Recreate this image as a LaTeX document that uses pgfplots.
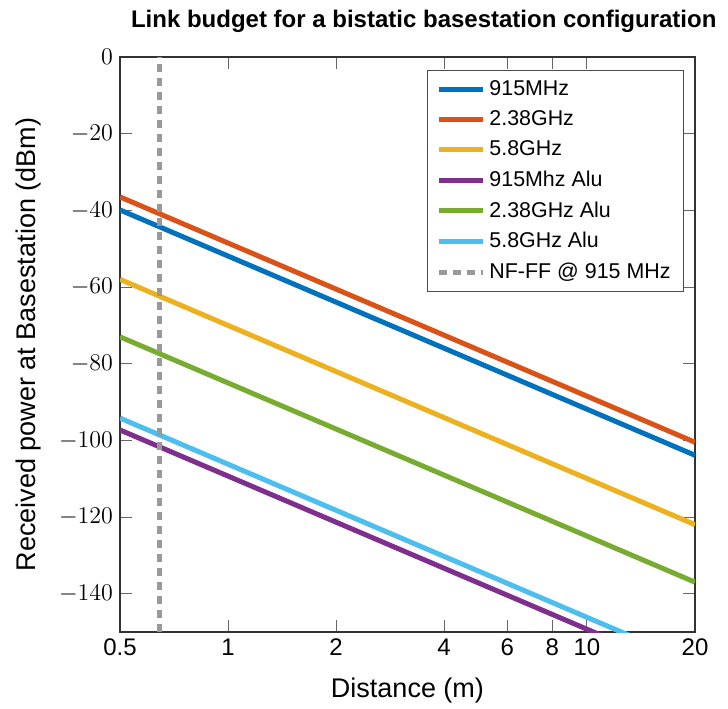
\documentclass[border=0pt]{standalone}
\usepackage{fontspec}
\setmainfont{Liberation Sans}
\usepackage{pgfplots}
\pgfplotsset{compat=1.18}

\definecolor{c1}{rgb}{0,0.447,0.741}
\definecolor{c2}{rgb}{0.850,0.325,0.098}
\definecolor{c3}{rgb}{0.929,0.694,0.125}
\definecolor{c4}{rgb}{0.494,0.184,0.556}
\definecolor{c5}{rgb}{0.466,0.674,0.188}
\definecolor{c6}{rgb}{0.301,0.745,0.933}
\definecolor{nfff}{rgb}{0.6,0.6,0.6}

\begin{document}
\begin{tikzpicture}
\begin{axis}[
  at={(0,0)}, anchor=south west,
  scale only axis, width=287.5pt, height=287.5pt,
  xmode=log, xmin=0.5, xmax=20, ymin=-150, ymax=0,
  xtick={0.5,1,2,4,6,8,10,20},
  xticklabels={0.5,1,2,4,6,8,10,20},
  xminorticks=false,
  ytick={-140,-120,-100,-80,-60,-40,-20,0},
  xticklabel style={font=\fontsize{12}{14}\selectfont},
  yticklabel style={font=\fontsize{13}{15}\selectfont},
  major tick length=6pt,
  tick style={color=black!60, line width=0.5pt},
  axis line style={line width=0.6pt, color=black!80},
  xlabel={Distance (m)},
  ylabel={Received power at Basestation (dBm)},
  label style={font=\fontsize{13.5}{15}\selectfont},
  xlabel style={yshift=-4pt},
  ylabel style={yshift=2pt},
  legend style={at={(1,1)}, anchor=north east, xshift=-5.5pt, yshift=-6.5pt,
    font=\fontsize{10.7}{12}\selectfont, row sep=2.1pt, inner xsep=4.5pt, inner ysep=3pt,
    draw=black!70, line width=0.5pt},
  legend cell align=left,
  legend image code/.code={\draw[#1] (0pt,0pt) -- (22pt,0pt);},
  every axis plot/.append style={line width=2.5pt},
]
\addplot[c1] coordinates {(0.5,-39.9) (20,-103.9)};
\addlegendentry{915MHz}
\addplot[c2] coordinates {(0.5,-36.5) (20,-100.5)};
\addlegendentry{2.38GHz}
\addplot[c3] coordinates {(0.5,-58.0) (20,-122.0)};
\addlegendentry{5.8GHz}
\addplot[c4] coordinates {(0.5,-97.3) (20,-161.3)};
\addlegendentry{915Mhz Alu}
\addplot[c5] coordinates {(0.5,-73.0) (20,-137.0)};
\addlegendentry{2.38GHz Alu}
\addplot[c6] coordinates {(0.5,-94.2) (20,-158.2)};
\addlegendentry{5.8GHz Alu}
\addplot[nfff, dash pattern=on 4pt off 3pt] coordinates {(0.646,-150) (0.646,0)};
\addlegendentry{NF-FF @ 915 MHz}
\end{axis}
\node[anchor=base west, font=\bfseries\fontsize{12}{14}\selectfont] at (2pt,302pt)
  {Link budget for a bistatic basestation configuration};
\pgfresetboundingbox
\path[use as bounding box] (-60pt,-38pt) rectangle (304pt,316pt);
\end{tikzpicture}
\end{document}
